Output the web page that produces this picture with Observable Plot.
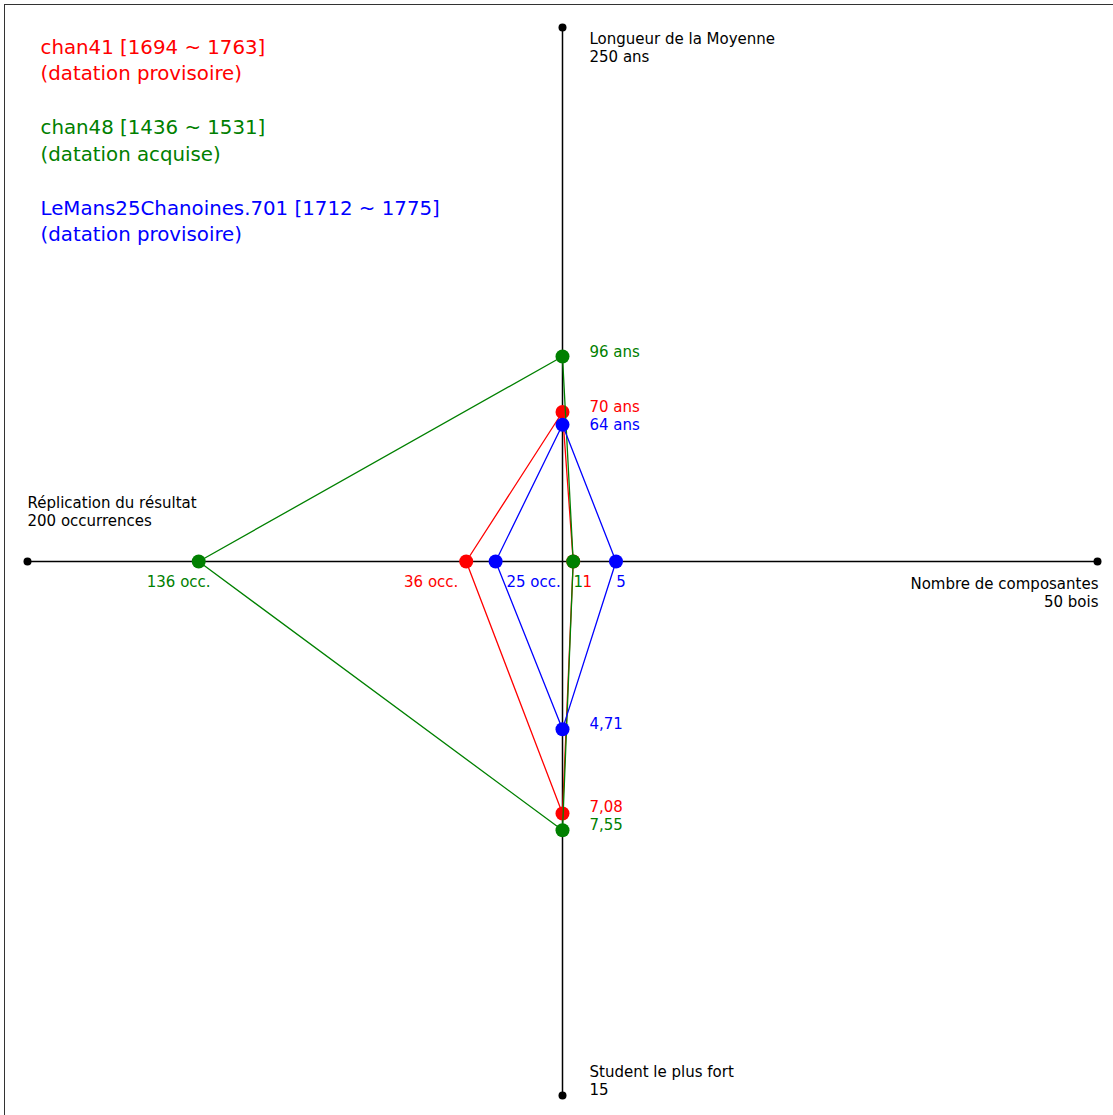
<!DOCTYPE html>
<html>
<head>
<meta charset="utf-8">
<script src="https://cdn.jsdelivr.net/npm/d3@7"></script>
<script src="https://cdn.jsdelivr.net/npm/@observablehq/plot@0.6"></script>
<style>
  html, body { margin: 0; padding: 0; background: #fff; overflow: hidden; }
  #frame { position: absolute; left: 4px; top: 4px; width: 1200px; height: 1200px; border: 1.5px solid #333; box-sizing: border-box; }
  #chart { position: absolute; left: 0; top: 0; }
</style>
</head>
<body>
<div id="frame"></div>
<div id="chart"></div>
<script>
// ---- data ----
const seriesNames = ["chan41", "chan48", "LeMans25Chanoines.701"];
const periods = ["[1694 ~ 1763]", "[1436 ~ 1531]", "[1712 ~ 1775]"];
const statuses = ["(datation provisoire)", "(datation acquise)", "(datation provisoire)"];
const seriesColors = ["red", "green", "blue"];
const occurrences = [36, 136, 25];      // left axis, max 200
const composantes = [1, 1, 5];          // right axis, max 50
const moyenne = [70, 96, 64];           // top axis, max 250
const student = [7.08, 7.55, 4.71];     // bottom axis, max 15

const axisTitles = ["Longueur de la Moyenne", "Nombre de composantes", "Student le plus fort", "Réplication du résultat"];
const axisMax = [250, 50, 15, 200];
const axisUnits = ["ans", "bois", "", "occurrences"];

// label offsets (style only)
const topDy = [-5, -4, 0];
const bottomDy = [-6, -5, -5];
const leftDx = [-35, -20, 38];
const rightDx = [14, 5, 5];

const font = "DejaVu Sans, Verdana, sans-serif";
const fmtComma = v => String(v).replace(".", ",");

// normalised axis positions
const pts = seriesNames.map((s, i) => ({
  top:    {x: 0, y: moyenne[i] / axisMax[0]},
  right:  {x: composantes[i] / axisMax[1], y: 0},
  bottom: {x: 0, y: -student[i] / axisMax[2]},
  left:   {x: -occurrences[i] / axisMax[3], y: 0}
}));

const marks = [];
// axes
marks.push(Plot.ruleY([0], {x1: -1, x2: 1, stroke: "#000", strokeWidth: 1.5}));
marks.push(Plot.ruleX([0], {y1: -1, y2: 1, stroke: "#000", strokeWidth: 1.5}));
const axisEnds = [{x: 0, y: 1}, {x: 1, y: 0}, {x: 0, y: -1}, {x: -1, y: 0}];
marks.push(Plot.dot(axisEnds, {x: "x", y: "y", r: 4, fill: "#000", stroke: "none"}));

// axis titles
const tFont = {fontSize: 15, fill: "#000", lineHeight: 1.2};
marks.push(Plot.text([axisEnds[0]], {x: "x", y: "y", text: () => `${axisTitles[0]}\n${axisMax[0]} ${axisUnits[0]}`, textAnchor: "start", dx: 27, dy: 20, ...tFont}));
marks.push(Plot.text([axisEnds[1]], {x: "x", y: "y", text: () => `${axisTitles[1]}\n${axisMax[1]} ${axisUnits[1]}`, textAnchor: "end", dx: 1, dy: 31, ...tFont}));
marks.push(Plot.text([axisEnds[2]], {x: "x", y: "y", text: () => `${axisTitles[2]}\n${axisMax[2]}`, textAnchor: "start", dx: 27, dy: -15, ...tFont}));
marks.push(Plot.text([axisEnds[3]], {x: "x", y: "y", text: () => `${axisTitles[3]}\n${axisMax[3]} ${axisUnits[3]}`, textAnchor: "start", dx: 0, dy: -50, ...tFont}));

// series polygons, dots, labels
seriesNames.forEach((s, i) => {
  const p = pts[i];
  const poly = [p.top, p.right, p.bottom, p.left, p.top];
  const c = seriesColors[i];
  marks.push(Plot.line(poly, {x: "x", y: "y", stroke: c, strokeWidth: 1.3, curve: "linear"}));
  marks.push(Plot.dot([p.top, p.right, p.bottom, p.left], {x: "x", y: "y", r: 7, fill: c, stroke: "none"}));
  marks.push(Plot.text([p.top], {x: "x", y: "y", text: () => `${moyenne[i]} ans`, textAnchor: "start", dx: 27, dy: topDy[i], fill: c, fontSize: 15}));
  marks.push(Plot.text([p.bottom], {x: "x", y: "y", text: () => fmtComma(student[i]), textAnchor: "start", dx: 27, dy: bottomDy[i], fill: c, fontSize: 15}));
  marks.push(Plot.text([p.left], {x: "x", y: "y", text: () => `${occurrences[i]} occ.`, textAnchor: "middle", dx: leftDx[i], dy: 21, fill: c, fontSize: 15}));
  marks.push(Plot.text([p.right], {x: "x", y: "y", text: () => `${composantes[i]}`, textAnchor: "middle", dx: rightDx[i], dy: 21, fill: c, fontSize: 15}));
  // legend
  marks.push(Plot.text([0], {frameAnchor: "top-left", text: () => `${s} ${periods[i]}\n${statuses[i]}`, textAnchor: "start", lineAnchor: "middle", lineHeight: 1.35, dx: 40, dy: 58 + 80.5 * i, fill: c, fontSize: 19.8}));
});

const chart = Plot.plot({
  width: 1113,
  height: 1115,
  margin: 0,
  style: {fontFamily: font, background: "transparent", overflow: "visible"},
  x: {domain: [-1, 1], range: [27, 1097], axis: null},
  y: {domain: [-1, 1], range: [1095, 27], axis: null},
  marks
});
document.getElementById("chart").appendChild(chart);
</script>
</body>
</html>
